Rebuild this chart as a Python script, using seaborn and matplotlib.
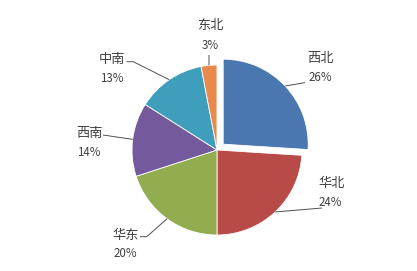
import matplotlib
matplotlib.use("Agg")
import matplotlib.pyplot as plt
import numpy as np
import seaborn as sns

# Regional share (%), drawn clockwise from 12 o'clock
regions = ["西北", "华北", "华东", "西南", "中南", "东北"]
shares = [26, 24, 20, 14, 13, 3]
slice_colors = ["#4A77B0", "#B84A47", "#91AD50", "#745A9D", "#3F9EBB", "#E78A4B"]
explode = [0.1, 0, 0, 0, 0, 0]

sns.set_theme(style="white")
plt.rcParams["font.family"] = ["Noto Sans CJK SC", "DejaVu Sans"]

W, H, DPI = 417, 271, 100
fig = plt.figure(figsize=(W / DPI, H / DPI), dpi=DPI)
ax = fig.add_axes([0, 0, 1, 1])

# pie of radius 1 centred at pixel (217, 150); 1 unit = 85 px
R_PX, CX, CY = 85.0, 217.0, 150.0


def px(x, y):
    return (x - CX) / R_PX, (CY - y) / R_PX


palette = sns.color_palette(slice_colors)
wedges, _ = ax.pie(
    shares,
    colors=palette,
    explode=explode,
    startangle=90,
    counterclock=False,
    radius=1.0,
    center=(0, 0),
    wedgeprops=dict(edgecolor="white", linewidth=0.6),
    frame=True,
)
ax.set_xlim(-CX / R_PX, (W - CX) / R_PX)
ax.set_ylim(-(H - CY) / R_PX, CY / R_PX)
ax.axis("off")

# label layout: (name centre, pct centre, leader elbow points)
label_layout = {
    "西北": ((320.5, 58.5), (320, 77), [(305, 82.7)]),
    "华北": ((332, 183.5), (330, 202), [(322, 208)]),
    "华东": ((126, 235), (125, 253.5), [(146.7, 236.7), (140, 236.7)]),
    "西南": ((89, 133), (88.7, 152.3), [(103, 135)]),
    "中南": ((111.7, 59.5), (112, 78.5), [(133.3, 61.7), (126.7, 61.7)]),
    "东北": ((210, 25), (210, 45), [(209, 55)]),
}

text_color = "#404040"
for w, name, val in zip(wedges, regions, shares):
    mid = np.deg2rad((w.theta1 + w.theta2) / 2)
    cx, cy = w.center
    r = w.r
    start = (cx + r * np.cos(mid), cy + r * np.sin(mid))
    name_pos, pct_pos, elbows = label_layout[name]
    pts = [start] + [px(*p) for p in elbows]
    xs, ys = zip(*pts)
    ax.plot(xs, ys, color="#505050", linewidth=0.7, solid_capstyle="butt")
    ax.text(*px(*name_pos), name, ha="center", va="center",
            fontsize=9.5, color=text_color)
    ax.text(*px(*pct_pos), f"{val}%", ha="center", va="center",
            fontsize=8.3, color=text_color, fontweight="light")

fig.savefig("out.png", dpi=DPI, facecolor="white")
